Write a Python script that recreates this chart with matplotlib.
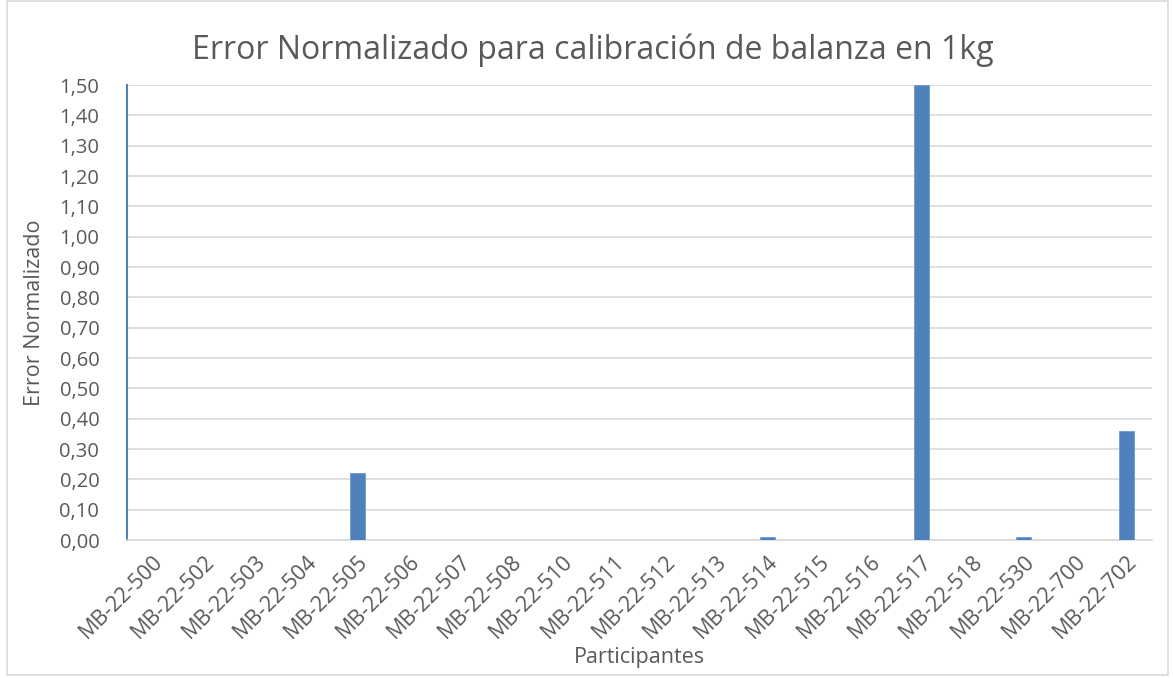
import matplotlib.pyplot as plt
import numpy as np
from matplotlib.patches import Rectangle

participantes = ["MB-22-500", "MB-22-502", "MB-22-503", "MB-22-504", "MB-22-505",
                 "MB-22-506", "MB-22-507", "MB-22-508", "MB-22-510", "MB-22-511",
                 "MB-22-512", "MB-22-513", "MB-22-514", "MB-22-515", "MB-22-516",
                 "MB-22-517", "MB-22-518", "MB-22-530", "MB-22-700", "MB-22-702"]
error_norm = [0.0, 0.0, 0.0, 0.0, 0.22,
              0.0, 0.0, 0.0, 0.0, 0.0,
              0.0, 0.0, 0.01, 0.0, 0.0,
              1.50, 0.0, 0.01, 0.0, 0.36]
yticks = np.arange(0, 1.51, 0.10)

plt.rcParams['font.family'] = ['Open Sans', 'DejaVu Sans']
gris = "#595959"

fig = plt.figure(figsize=(11.73, 6.78), dpi=100)
ax = fig.add_axes([0.1083, 0.2035, 0.8737, 0.6711])

x = np.arange(len(participantes))
ax.bar(x, error_norm, width=0.3, color="#4f81bd", edgecolor="#6e9bd1", linewidth=0.6, zorder=3)

ax.set_xlim(-0.5, len(participantes) - 0.5)
ax.set_ylim(0, 1.5)
ax.set_yticks(yticks)
ax.set_yticklabels([f"{v:.2f}".replace(".", ",") for v in yticks], fontsize=14.5, color=gris)
ax.set_xticks(x)
ax.set_xticklabels(participantes, rotation=45, ha="right", rotation_mode="anchor",
                   fontsize=15.5, color=gris)
ax.tick_params(axis="y", length=0, pad=20)
ax.tick_params(axis="x", length=0, pad=8)
ax.grid(axis="y", color="#d9d9d9", linewidth=1.2, zorder=0)
for s in ["top", "right"]:
    ax.spines[s].set_visible(False)
ax.spines["bottom"].set_color("#d9d9d9")
ax.spines["bottom"].set_linewidth(1.2)
ax.spines["left"].set_color("#4f81bd")
ax.spines["left"].set_linewidth(1.5)

fig.text(0.505, 0.926, "Error Normalizado para calibración de balanza en 1kg", fontsize=23,
         color=gris, ha="center", va="center")
ax.set_ylabel("Error Normalizado", fontsize=15.5, color=gris, labelpad=10)
fig.text(0.545, 0.022, "Participantes", fontsize=15.5, color=gris, ha="center")

fig.patches.append(Rectangle((0.006, 0.004), 0.99, 0.994, transform=fig.transFigure,
                             fill=False, edgecolor="#d9d9d9", linewidth=1.2))

fig.savefig("out.png", dpi=100)
